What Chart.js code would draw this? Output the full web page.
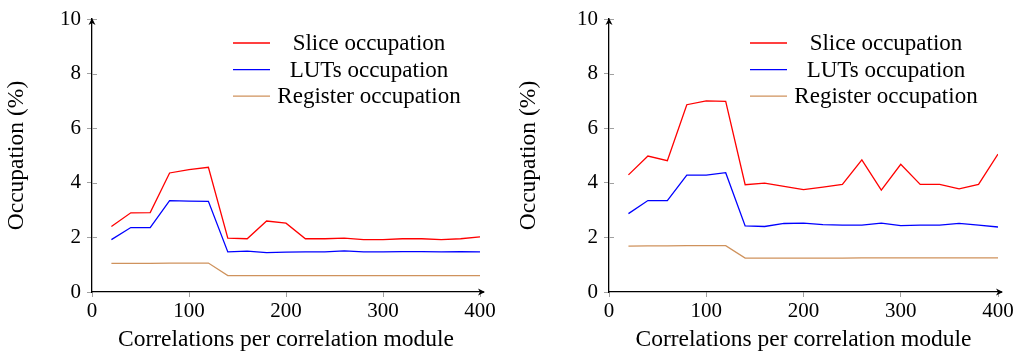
<!DOCTYPE html>
<html>
<head>
<meta charset="utf-8">
<script src="https://cdn.jsdelivr.net/npm/chart.js@4.4.0/dist/chart.umd.min.js"></script>
<style>
  html, body { margin: 0; padding: 0; background: #ffffff; }
  .wrap { position: absolute; top: 0; width: 512px; height: 363px; }
  #w1 { left: 0; }
  #w2 { left: 512px; }
</style>
</head>
<body>
<div class="wrap" id="w1"><canvas id="c1" width="512" height="363"></canvas></div>
<div class="wrap" id="w2"><canvas id="c2" width="512" height="363"></canvas></div>
<script>
// ---- Data ----
const correlations = [20, 40, 60, 80, 100, 120, 140, 160, 180, 200, 220, 240, 260, 280, 300, 320, 340, 360, 380, 400];
const seriesLabels = ["Slice occupation", "LUTs occupation", "Register occupation"];
const xTicks = [0, 100, 200, 300, 400];
const yTicks = [0, 2, 4, 6, 8, 10];

const leftSlice = [2.40, 2.90, 2.91, 4.36, 4.48, 4.57, 1.97, 1.95, 2.60, 2.52, 1.95, 1.95, 1.97, 1.92, 1.92, 1.95, 1.95, 1.92, 1.95, 2.02];
const leftLuts  = [1.92, 2.36, 2.36, 3.35, 3.33, 3.32, 1.47, 1.50, 1.44, 1.46, 1.47, 1.47, 1.51, 1.47, 1.47, 1.48, 1.48, 1.47, 1.48, 1.47];
const leftReg   = [1.05, 1.05, 1.05, 1.06, 1.06, 1.06, 0.60, 0.60, 0.60, 0.60, 0.60, 0.60, 0.60, 0.60, 0.60, 0.60, 0.60, 0.60, 0.60, 0.60];

const rightSlice = [4.29, 4.98, 4.81, 6.86, 7.00, 6.98, 3.93, 3.99, 3.87, 3.75, 3.84, 3.94, 4.84, 3.73, 4.68, 3.94, 3.94, 3.78, 3.94, 5.05];
const rightLuts  = [2.87, 3.35, 3.35, 4.28, 4.28, 4.37, 2.42, 2.40, 2.51, 2.52, 2.47, 2.45, 2.45, 2.52, 2.43, 2.45, 2.45, 2.51, 2.45, 2.38];
const rightReg   = [1.68, 1.69, 1.69, 1.70, 1.70, 1.70, 1.24, 1.24, 1.24, 1.24, 1.24, 1.24, 1.25, 1.25, 1.25, 1.25, 1.25, 1.25, 1.25, 1.25];

const colors = ["#ff0000", "#0000ff", "#cf925c"];
const FONT = '"Liberation Serif", "DejaVu Serif", serif';

function pts(ys) { return correlations.map((x, i) => ({ x: x, y: ys[i] })); }

// custom legend (pgfplots-like: line on left, text centered in column) + axis arrows
const decoPlugin = {
  id: 'deco',
  afterDatasetsDraw(chart) {
    const ctx = chart.ctx;
    const a = chart.chartArea;
    ctx.save();
    ctx.strokeStyle = '#a0a0a0';
    ctx.lineWidth = 1;
    const ys = chart.scales.y;
    yTicks.forEach(v => {
      if (v === 0) return;
      const py = Math.round(ys.getPixelForValue(v)) + 0.5;
      ctx.beginPath(); ctx.moveTo(a.left, py); ctx.lineTo(a.left + 5, py); ctx.stroke();
    });
    ctx.fillStyle = '#000';
    ctx.strokeStyle = '#000';
    ctx.lineWidth = 1.3;
    ctx.beginPath(); ctx.moveTo(a.right, a.bottom); ctx.lineTo(a.right + 4, a.bottom); ctx.stroke();
    ctx.beginPath();
    ctx.moveTo(a.right + 5, a.bottom);
    ctx.lineTo(a.right - 2, a.bottom - 3.5);
    ctx.lineTo(a.right, a.bottom);
    ctx.lineTo(a.right - 2, a.bottom + 3.5);
    ctx.closePath(); ctx.fill();
    ctx.beginPath();
    ctx.moveTo(a.left, a.top - 1);
    ctx.lineTo(a.left - 3.5, a.top + 6);
    ctx.lineTo(a.left, a.top + 4);
    ctx.lineTo(a.left + 3.5, a.top + 6);
    ctx.closePath(); ctx.fill();
    ctx.font = "23px " + FONT;
    ctx.textAlign = 'center';
    ctx.textBaseline = 'middle';
    chart.data.datasets.forEach((ds, i) => {
      const y = a.top + 24 + i * 26.6;
      ctx.strokeStyle = ds.borderColor;
      ctx.lineWidth = 1.3;
      ctx.beginPath(); ctx.moveTo(a.left + 141, y); ctx.lineTo(a.left + 178, y); ctx.stroke();
      ctx.fillStyle = '#000';
      ctx.fillText(ds.label, a.left + 277, y + 1);
    });
    ctx.restore();
  }
};

function makeChart(id, data, yWidth, padRight) {
  const datasets = data.map((ys, i) => ({
    label: seriesLabels[i],
    data: pts(ys),
    borderColor: colors[i],
    backgroundColor: colors[i],
    borderWidth: 1.3,
    pointRadius: 0,
    tension: 0,
    fill: false
  }));
  return new Chart(document.getElementById(id), {
    type: 'line',
    data: { datasets },
    plugins: [decoPlugin],
    options: {
      responsive: false,
      animation: false,
      layout: { padding: { left: 0, right: padRight, top: 19, bottom: 0 } },
      plugins: { legend: { display: false }, tooltip: { enabled: false } },
      scales: {
        x: {
          type: 'linear', min: 0, max: 400,
          afterBuildTicks: s => { s.ticks = xTicks.map(v => ({ value: v })); },
          afterFit: s => { s.height = 71; },
          ticks: { color: '#000', font: { family: FONT, size: 21 }, padding: 2, maxRotation: 0 },
          grid: { drawOnChartArea: false, drawTicks: true, tickLength: 5, color: '#a0a0a0' },
          border: { display: true, color: '#000', width: 1.3 },
          title: { display: true, text: 'Correlations per correlation module', color: '#000',
                   font: { family: FONT, size: 23.5 }, padding: { top: 0, bottom: 9 } }
        },
        y: {
          type: 'linear', min: 0, max: 10,
          afterBuildTicks: s => { s.ticks = yTicks.map(v => ({ value: v })); },
          afterFit: s => { s.width = yWidth; },
          ticks: { color: '#000', font: { family: FONT, size: 21 }, padding: 6 },
          grid: { drawOnChartArea: false, drawTicks: true, tickLength: 5, color: '#a0a0a0' },
          border: { display: true, color: '#000', width: 1.3 },
          title: { display: true, text: 'Occupation (%)', color: '#000',
                   font: { family: FONT, size: 23.5 }, padding: { top: 3, bottom: 0 } }
        }
      }
    }
  });
}

makeChart('c1', [leftSlice, leftLuts, leftReg], 92, 32);
makeChart('c2', [rightSlice, rightLuts, rightReg], 97, 26);
</script>
</body>
</html>
